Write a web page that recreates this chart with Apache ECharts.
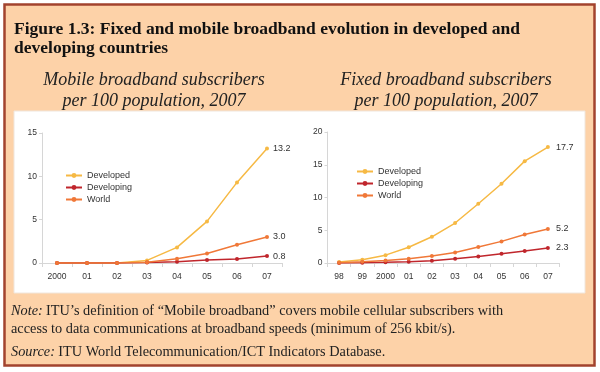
<!DOCTYPE html>
<html><head><meta charset="utf-8">
<script src="https://cdn.jsdelivr.net/npm/echarts@6/dist/echarts.min.js"></script>
<style>html,body{margin:0;padding:0;background:#fff}#c{width:600px;height:372px}</style>
</head><body><div id="c"></div>
<script>
const mobileYears = ['2000','01','02','03','04','05','06','07'];
const mobileDeveloped = [0, 0, 0, 0.3, 1.8, 4.8, 9.3, 13.2];
const mobileDeveloping = [0, 0, 0, 0.05, 0.15, 0.35, 0.45, 0.8];
const mobileWorld = [0, 0, 0, 0.1, 0.5, 1.1, 2.1, 3.0];
const mobileTicks = [0, 5, 10, 15];

const fixedYears = ['98','99','2000','01','02','03','04','05','06','07'];
const fixedDeveloped = [0.15, 0.5, 1.2, 2.4, 4.0, 6.1, 9.05, 12.1, 15.55, 17.7];
const fixedDeveloping = [0, 0.02, 0.1, 0.2, 0.35, 0.65, 1.0, 1.4, 1.85, 2.3];
const fixedWorld = [0.05, 0.2, 0.4, 0.65, 1.07, 1.6, 2.45, 3.3, 4.35, 5.2];
const fixedTicks = [0, 5, 10, 15, 20];

const seriesNames = ['Developed','Developing','World'];
const colors = {Developed:'#f6b944', Developing:'#c0262c', World:'#f07838'};

const chart = echarts.init(document.getElementById('c'), null, {renderer:'canvas'});

function lastLabeled(arr, dist){
  return arr.map((v,i)=> i===arr.length-1 ? {value:v, label:{show:true, position:'right', distance:dist, formatter: v.toFixed(1), color:'#333', fontSize:9, fontFamily:'Liberation Sans'}} : v);
}
function mk(name, data, gi){
  return {name, type:'line', xAxisIndex:gi, yAxisIndex:gi, data:lastLabeled(data, gi===0 ? 4 : 6),
    symbol:'circle', symbolSize:4, showSymbol:true,
    lineStyle:{width:1.5, color:colors[name]}, itemStyle:{color:colors[name]},
    emphasis:{disabled:true}, animation:false, z:3};
}
const axisLbl = {color:'#333', fontSize:8.5, fontFamily:'Liberation Sans'};
function xAx(gi, cats){
  return {type:'category', gridIndex:gi, data:cats, boundaryGap:true,
    axisLine:{lineStyle:{color:'#d6d6d6', width:1}},
    axisTick:{show:true, length:4, interval:0, lineStyle:{color:'#d6d6d6'}},
    axisLabel:Object.assign({margin:9, interval:0}, axisLbl)};
}
function yAx(gi, ticks){
  return {type:'value', gridIndex:gi, min:ticks[0], max:ticks[ticks.length-1], interval:ticks[1]-ticks[0],
    axisLine:{show:true, lineStyle:{color:'#d6d6d6', width:1}},
    axisTick:{show:true, length:3, lineStyle:{color:'#d6d6d6'}},
    splitLine:{show:false},
    axisLabel:Object.assign({margin:5}, axisLbl)};
}
const legendText = {color:'#333', fontSize:9, fontFamily:'Liberation Sans'};

chart.setOption({
  animation:false,
  graphic:[
    {type:'rect', shape:{x:4.5, y:4.5, width:590, height:361}, style:{fill:'#fdd2a8', stroke:'#a2432e', lineWidth:2.5}, z:-10},
    {type:'rect', shape:{x:14, y:111, width:571, height:182}, style:{fill:'#ffffff', stroke:'#f0e6dc', lineWidth:1}, z:-9},
    {type:'text', left:14, top:20, style:{text:'Figure 1.3: Fixed and mobile broadband evolution in developed and\ndeveloping countries', font:'bold 17.5px "Liberation Serif"', fill:'#111', lineHeight:19}},
    {type:'text', x:154, y:70, style:{text:'Mobile broadband subscribers\nper 100 population, 2007', font:'italic 18px "Liberation Serif"', fill:'#222', align:'center', lineHeight:21}},
    {type:'text', x:446, y:70, style:{text:'Fixed broadband subscribers\nper 100 population, 2007', font:'italic 18px "Liberation Serif"', fill:'#222', align:'center', lineHeight:21}},
    {type:'text', left:11, top:304, style:{rich:{i:{font:'italic 14.3px "Liberation Serif"', fill:'#222'}, n:{font:'14.3px "Liberation Serif"', fill:'#222'}}, text:'{i|Note:} {n|ITU\u2019s definition of \u201cMobile broadband\u201d covers mobile cellular subscribers with}'}},
    {type:'text', left:11, top:322, style:{text:'access to data communications at broadband speeds (minimum of 256 kbit/s).', font:'14.3px "Liberation Serif"', fill:'#222'}},
    {type:'text', left:11, top:345, style:{rich:{i:{font:'italic 14.3px "Liberation Serif"', fill:'#222'}, n:{font:'14.3px "Liberation Serif"', fill:'#222'}}, text:'{i|Source:} {n|ITU World Telecommunication/ICT Indicators Database.}'}}
  ],
  grid:[
    {left:42, top:133, width:240, height:130},
    {left:327.5, top:132, width:232, height:131}
  ],
  xAxis:[xAx(0, mobileYears), xAx(1, fixedYears)],
  yAxis:[yAx(0, mobileTicks), yAx(1, fixedTicks)],
  legend:[
    {data:seriesNames, orient:'vertical', left:60, top:166, itemWidth:16, itemHeight:6, itemGap:3, textStyle:legendText, selectedMode:false},
    {data:seriesNames, orient:'vertical', left:351, top:162, itemWidth:16, itemHeight:6, itemGap:3, textStyle:legendText, selectedMode:false}
  ],
  series:[
    mk('Developed', mobileDeveloped, 0),
    mk('Developing', mobileDeveloping, 0),
    mk('World', mobileWorld, 0),
    mk('Developed', fixedDeveloped, 1),
    mk('Developing', fixedDeveloping, 1),
    mk('World', fixedWorld, 1)
  ]
});
</script></body></html>
